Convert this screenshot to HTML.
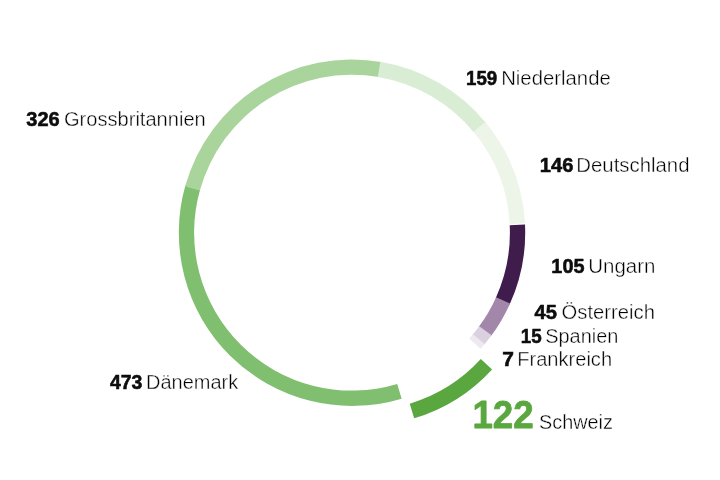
<!DOCTYPE html>
<html><head><meta charset="utf-8"><title>Chart</title><style>
html,body{margin:0;padding:0;background:#fff;overflow:hidden}
svg{display:block;will-change:transform}
text{font-family:"Liberation Sans",sans-serif}
text.n{font-weight:700;fill:#0d0d0d;stroke:#0d0d0d;stroke-width:0.55px;stroke-linejoin:round}
text.t{font-weight:400;fill:#000;stroke:#fff;stroke-width:0.38px}
</style></head><body>
<svg width="720" height="480" viewBox="0 0 720 480">
<rect width="720" height="480" fill="#fff"/>
<g>
<path d="M401.63 398.64A173.2 173.2 0 0 1 185.43 185.25L200.14 189.44A157.9 157.9 0 0 0 397.24 383.98Z" fill="#80bf6f"/>
<path d="M185.10 186.41A173.2 173.2 0 0 1 381.48 62.03L378.88 77.10A157.9 157.9 0 0 0 199.84 190.50Z" fill="#a9d49c"/>
<path d="M380.29 61.83A173.2 173.2 0 0 1 486.03 123.00L474.19 132.69A157.9 157.9 0 0 0 377.79 76.92Z" fill="#d9edd4"/>
<path d="M485.26 122.07A173.2 173.2 0 0 1 524.94 223.18L509.66 224.02A157.9 157.9 0 0 0 473.49 131.84Z" fill="#ecf5e8"/>
<path d="M525.01 224.54A173.2 173.2 0 0 1 509.61 304.52L495.68 298.18A157.9 157.9 0 0 0 509.72 225.26Z" fill="#3f1c4c"/>
<path d="M510.10 303.42A173.2 173.2 0 0 1 490.87 336.21L478.60 327.07A157.9 157.9 0 0 0 496.14 297.18Z" fill="#a287ab"/>
<path d="M491.59 335.24A173.2 173.2 0 0 1 483.90 344.95L472.25 335.04A157.9 157.9 0 0 0 479.26 326.18Z" fill="#dbd0df"/>
<path d="M484.68 344.03A173.2 173.2 0 0 1 480.51 348.82L469.16 338.56A157.9 157.9 0 0 0 472.96 334.20Z" fill="#eee9f0"/>
<path d="M492.08 369.45A173.2 173.2 0 0 1 414.15 418.33L409.76 403.68A157.9 157.9 0 0 0 480.80 359.11Z" fill="#5aa740"/>
</g>
<g>
<text class="n" x="466.09" y="84.9" font-size="19.6" textLength="31.16" lengthAdjust="spacingAndGlyphs">159</text>
<text class="t" x="501.18" y="84.9" font-size="19.6" textLength="109.6" lengthAdjust="spacingAndGlyphs">Niederlande</text>
<text class="n" x="539.8" y="172.0" font-size="19.6" textLength="33.58" lengthAdjust="spacingAndGlyphs">146</text>
<text class="t" x="576.34" y="172.0" font-size="19.6" textLength="113.16" lengthAdjust="spacingAndGlyphs">Deutschland</text>
<text class="n" x="551.39" y="272.8" font-size="19.6" textLength="33.08" lengthAdjust="spacingAndGlyphs">105</text>
<text class="t" x="588.26" y="272.8" font-size="19.6" textLength="67.11" lengthAdjust="spacingAndGlyphs">Ungarn</text>
<text class="n" x="534.63" y="319.3" font-size="19.6" textLength="22.39" lengthAdjust="spacingAndGlyphs">45</text>
<text class="t" x="561.63" y="319.3" font-size="19.6" textLength="93.28" lengthAdjust="spacingAndGlyphs">Österreich</text>
<text class="n" x="520.78" y="342.7" font-size="19.6" textLength="20.89" lengthAdjust="spacingAndGlyphs">15</text>
<text class="t" x="545.21" y="342.7" font-size="19.6" textLength="73.19" lengthAdjust="spacingAndGlyphs">Spanien</text>
<text class="n" x="502.2" y="366.4" font-size="19.6" textLength="11.65" lengthAdjust="spacingAndGlyphs">7</text>
<text class="t" x="517.2" y="366.4" font-size="19.6" textLength="94.91" lengthAdjust="spacingAndGlyphs">Frankreich</text>
<text class="n" x="26.33" y="126.0" font-size="19.6" textLength="33.38" lengthAdjust="spacingAndGlyphs">326</text>
<text class="t" x="63.94" y="126.0" font-size="19.6" textLength="141.86" lengthAdjust="spacingAndGlyphs">Grossbritannien</text>
<text class="n" x="109.88" y="389.3" font-size="19.6" textLength="32.49" lengthAdjust="spacingAndGlyphs">473</text>
<text class="t" x="146.04" y="389.3" font-size="19.6" textLength="92.22" lengthAdjust="spacingAndGlyphs">Dänemark</text>
<text class="n" x="472.43" y="428.1" font-size="38.8" textLength="61.35" lengthAdjust="spacingAndGlyphs" style="fill:#5aa740;stroke:#5aa740;stroke-width:0.8px">122</text>
<text class="t" x="539.02" y="428.6" font-size="19.6" textLength="73.82" lengthAdjust="spacingAndGlyphs">Schweiz</text>
</g>
</svg>
</body></html>
